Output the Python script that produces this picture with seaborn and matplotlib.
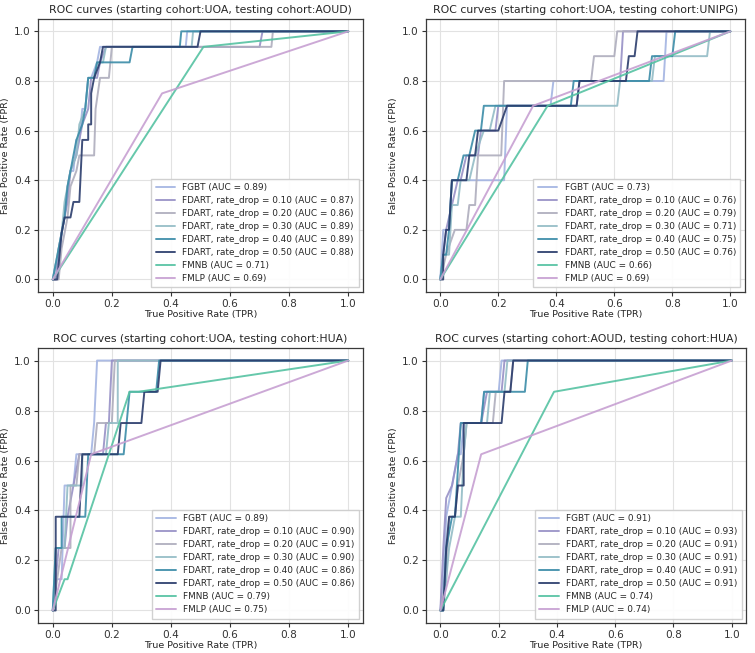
import matplotlib
matplotlib.use("Agg")
import matplotlib.pyplot as plt
import seaborn as sns

# model names (legend order)
models = ["FGBT", "FDART, rate_drop = 0.10", "FDART, rate_drop = 0.20",
          "FDART, rate_drop = 0.30", "FDART, rate_drop = 0.40",
          "FDART, rate_drop = 0.50", "FMNB", "FMLP"]
colors = ["#a3b4e2", "#9790c6", "#aeadbd", "#93bcc6", "#3b8ca8",
          "#2a3c6c", "#55c2a2", "#c7a0d2"]

# ---- UOA -> AOUD
aoud_title = "ROC curves (starting cohort:UOA, testing cohort:AOUD)"
aoud_auc = [0.89, 0.87, 0.86, 0.89, 0.89, 0.88, 0.71, 0.69]
aoud_x = [
    [0, 0.01, 0.02, 0.03, 0.04, 0.05, 0.06, 0.07, 0.08, 0.09, 0.10, 0.11, 0.12, 0.13, 0.15, 0.16, 0.45, 0.455, 1],
    [0, 0.01, 0.02, 0.04, 0.05, 0.06, 0.08, 0.10, 0.12, 0.13, 0.15, 0.16, 0.18, 0.70, 0.71, 1],
    [0, 0.02, 0.03, 0.05, 0.06, 0.08, 0.09, 0.14, 0.145, 0.16, 0.19, 0.20, 0.74, 0.745, 1],
    [0, 0.01, 0.03, 0.04, 0.06, 0.08, 0.09, 0.11, 0.12, 0.14, 0.15, 0.17, 0.18, 0.47, 0.475, 1],
    [0, 0.01, 0.03, 0.04, 0.05, 0.06, 0.08, 0.10, 0.11, 0.12, 0.14, 0.15, 0.26, 0.27, 0.43, 0.435, 1],
    [0, 0.015, 0.03, 0.04, 0.06, 0.07, 0.09, 0.10, 0.12, 0.12, 0.13, 0.13, 0.14, 0.16, 0.17, 0.49, 0.50, 1],
    [0, 0.51, 1],
    [0, 0.37, 1],
]
aoud_y = [
    [0, 0.0625, 0.0625, 0.1875, 0.25, 0.375, 0.4375, 0.4375, 0.5625, 0.5625, 0.6875, 0.6875, 0.8125, 0.8125, 0.875, 0.9375, 0.9375, 1, 1],
    [0, 0, 0.125, 0.25, 0.3125, 0.4375, 0.5, 0.625, 0.6875, 0.8125, 0.8125, 0.875, 0.9375, 0.9375, 1, 1],
    [0, 0, 0.125, 0.25, 0.375, 0.4375, 0.5, 0.5, 0.6875, 0.8125, 0.8125, 0.9375, 0.9375, 1, 1],
    [0, 0.0625, 0.1875, 0.3125, 0.4375, 0.5, 0.625, 0.6875, 0.8125, 0.8125, 0.875, 0.875, 0.9375, 0.9375, 1, 1],
    [0, 0.0625, 0.1875, 0.25, 0.375, 0.4375, 0.5625, 0.625, 0.6875, 0.8125, 0.8125, 0.875, 0.875, 0.9375, 0.9375, 1, 1],
    [0, 0, 0.1875, 0.25, 0.25, 0.3125, 0.3125, 0.5625, 0.5625, 0.625, 0.625, 0.75, 0.8125, 0.875, 0.9375, 0.9375, 1, 1],
    [0, 0.9375, 1],
    [0, 0.75, 1],
]

# ---- UOA -> UNIPG
unipg_title = "ROC curves (starting cohort:UOA, testing cohort:UNIPG)"
unipg_auc = [0.73, 0.76, 0.79, 0.71, 0.75, 0.76, 0.66, 0.69]
unipg_x = [
    [0, 0.01, 0.03, 0.04, 0.22, 0.23, 0.38, 0.39, 0.77, 0.78, 1],
    [0, 0.01, 0.02, 0.04, 0.06, 0.07, 0.09, 0.13, 0.14, 0.19, 0.20, 0.47, 0.48, 0.62, 0.63, 1],
    [0, 0.02, 0.05, 0.09, 0.10, 0.12, 0.13, 0.21, 0.22, 0.52, 0.53, 0.60, 0.61, 1],
    [0, 0.01, 0.03, 0.04, 0.06, 0.07, 0.10, 0.12, 0.15, 0.17, 0.19, 0.61, 0.62, 0.73, 0.74, 0.92, 0.93, 1],
    [0, 0.01, 0.02, 0.03, 0.04, 0.06, 0.08, 0.10, 0.12, 0.14, 0.15, 0.45, 0.46, 0.72, 0.73, 0.80, 0.81, 1],
    [0, 0.01, 0.01, 0.02, 0.03, 0.04, 0.09, 0.10, 0.12, 0.13, 0.20, 0.23, 0.47, 0.48, 0.64, 0.65, 0.67, 0.68, 1],
    [0, 0.37, 1],
    [0, 0.32, 1],
]
unipg_y = [
    [0, 0.2, 0.2, 0.4, 0.4, 0.7, 0.7, 0.8, 0.8, 1, 1],
    [0, 0.1, 0.2, 0.3, 0.4, 0.4, 0.5, 0.5, 0.6, 0.6, 0.7, 0.7, 0.8, 0.8, 1, 1],
    [0, 0.1, 0.2, 0.2, 0.3, 0.3, 0.5, 0.5, 0.8, 0.8, 0.9, 0.9, 1, 1],
    [0, 0.1, 0.1, 0.3, 0.3, 0.4, 0.4, 0.5, 0.6, 0.6, 0.7, 0.7, 0.8, 0.8, 0.9, 0.9, 1, 1],
    [0, 0.1, 0.1, 0.2, 0.4, 0.4, 0.5, 0.5, 0.6, 0.6, 0.7, 0.7, 0.8, 0.8, 0.9, 0.9, 1, 1],
    [0, 0, 0.1, 0.2, 0.2, 0.4, 0.4, 0.5, 0.5, 0.6, 0.6, 0.7, 0.7, 0.8, 0.8, 0.9, 0.9, 1, 1],
    [0, 0.7, 1],
    [0, 0.7, 1],
]

# ---- UOA -> HUA
hua_title = "ROC curves (starting cohort:UOA, testing cohort:HUA)"
hua_auc = [0.89, 0.90, 0.91, 0.90, 0.86, 0.86, 0.79, 0.75]
hua_x = [
    [0, 0.01, 0.03, 0.04, 0.07, 0.08, 0.13, 0.14, 0.15, 1],
    [0, 0.02, 0.04, 0.05, 0.07, 0.09, 0.17, 0.18, 0.19, 0.20, 1],
    [0, 0.03, 0.06, 0.06, 0.08, 0.09, 0.14, 0.15, 0.20, 0.21, 1],
    [0, 0.01, 0.04, 0.05, 0.10, 0.10, 0.18, 0.19, 0.22, 0.22, 1],
    [0, 0.01, 0.03, 0.03, 0.11, 0.12, 0.24, 0.26, 0.35, 0.36, 1],
    [0, 0.01, 0.01, 0.09, 0.10, 0.22, 0.23, 0.30, 0.31, 0.355, 0.365, 1],
    [0, 0.04, 0.05, 0.26, 0.29, 1],
    [0, 0.13, 1],
]
hua_y = [
    [0, 0.125, 0.125, 0.5, 0.5, 0.625, 0.625, 0.75, 1, 1],
    [0, 0.25, 0.25, 0.375, 0.5, 0.625, 0.625, 0.75, 0.75, 1, 1],
    [0, 0.25, 0.25, 0.5, 0.5, 0.625, 0.625, 0.75, 0.75, 1, 1],
    [0, 0.25, 0.25, 0.5, 0.5, 0.625, 0.625, 0.75, 0.75, 1, 1],
    [0, 0.25, 0.25, 0.375, 0.375, 0.625, 0.625, 0.875, 0.875, 1, 1],
    [0, 0, 0.375, 0.375, 0.625, 0.625, 0.75, 0.75, 0.875, 0.875, 1, 1],
    [0, 0.125, 0.125, 0.875, 0.875, 1],
    [0, 0.625, 1],
]

# ---- AOUD -> HUA
aoud_hua_title = "ROC curves (starting cohort:AOUD, testing cohort:HUA)"
aoud_hua_auc = [0.91, 0.93, 0.91, 0.91, 0.91, 0.91, 0.74, 0.74]
aoud_hua_x = [
    [0, 0.01, 0.02, 0.04, 0.06, 0.07, 0.08, 0.14, 0.15, 0.20, 0.21, 1],
    [0, 0.01, 0.02, 0.04, 0.06, 0.07, 0.14, 0.16, 0.21, 0.22, 1],
    [0, 0.02, 0.03, 0.05, 0.06, 0.08, 0.09, 0.18, 0.19, 0.24, 0.25, 1],
    [0, 0.01, 0.03, 0.05, 0.07, 0.08, 0.09, 0.16, 0.17, 0.22, 0.23, 1],
    [0, 0.01, 0.02, 0.04, 0.05, 0.07, 0.14, 0.15, 0.29, 0.30, 1],
    [0, 0.01, 0.02, 0.03, 0.05, 0.06, 0.08, 0.08, 0.21, 0.22, 0.24, 0.25, 1],
    [0, 0.39, 1],
    [0, 0.14, 1],
]
aoud_hua_y = [
    [0, 0.125, 0.375, 0.5, 0.625, 0.625, 0.75, 0.75, 0.875, 0.875, 1, 1],
    [0, 0.25, 0.45, 0.5, 0.625, 0.75, 0.75, 0.875, 0.875, 1, 1],
    [0, 0.125, 0.375, 0.375, 0.5, 0.625, 0.75, 0.75, 0.875, 0.875, 1, 1],
    [0, 0, 0.25, 0.375, 0.375, 0.625, 0.75, 0.75, 0.875, 0.875, 1, 1],
    [0, 0, 0.25, 0.375, 0.375, 0.75, 0.75, 0.875, 0.875, 1, 1],
    [0, 0, 0.25, 0.375, 0.375, 0.5, 0.5, 0.75, 0.75, 0.875, 0.875, 1, 1],
    [0, 0.875, 1],
    [0, 0.625, 1],
]

sns.set_style("whitegrid", {
    "axes.edgecolor": "#3a3a3a",
    "grid.color": "#e2e2e2",
    "xtick.bottom": True,
    "ytick.left": True,
})
plt.rcParams["font.family"] = ["DejaVu Sans"]
plt.rcParams["xtick.major.size"] = 3
plt.rcParams["ytick.major.size"] = 3
plt.rcParams["xtick.color"] = "#333333"
plt.rcParams["ytick.color"] = "#333333"

fig = plt.figure(figsize=(7.55, 6.53), dpi=100)
positions = [
    [0.0503, 0.553, 0.4305, 0.418],
    [0.564, 0.553, 0.4225, 0.418],
    [0.0503, 0.046, 0.4305, 0.421],
    [0.564, 0.046, 0.4245, 0.421],
]
panels = [
    (aoud_title, aoud_auc, aoud_x, aoud_y),
    (unipg_title, unipg_auc, unipg_x, unipg_y),
    (hua_title, hua_auc, hua_x, hua_y),
    (aoud_hua_title, aoud_hua_auc, aoud_hua_x, aoud_hua_y),
]

for pos, (title, auc, xs, ys) in zip(positions, panels):
    ax = fig.add_axes(pos)
    for name, a, x, y, c in zip(models, auc, xs, ys, colors):
        sns.lineplot(x=x, y=y, ax=ax, color=c, linewidth=1.4, alpha=0.9,
                     sort=False, estimator=None, label=f"{name} (AUC = {a:.2f})")
    ax.set_xlim(-0.05, 1.05)
    ax.set_ylim(-0.05, 1.05)
    ax.set_xticks([0, 0.2, 0.4, 0.6, 0.8, 1.0])
    ax.set_yticks([0, 0.2, 0.4, 0.6, 0.8, 1.0])
    ax.tick_params(labelsize=7.6, pad=2)
    ax.set_xlabel("True Positive Rate (TPR)", fontsize=6.8, labelpad=1)
    ax.set_ylabel("False Positive Rate (FPR)", fontsize=6.8, labelpad=3)
    ax.set_title(title, fontsize=7.8, pad=4)
    for s in ax.spines.values():
        s.set_linewidth(0.9)
    ax.legend(loc="lower right", fontsize=6.4, framealpha=0.9,
              edgecolor="#cccccc", fancybox=False, handlelength=2.2,
              labelspacing=0.45, borderpad=0.5)

fig.savefig("out.png", dpi=100)
